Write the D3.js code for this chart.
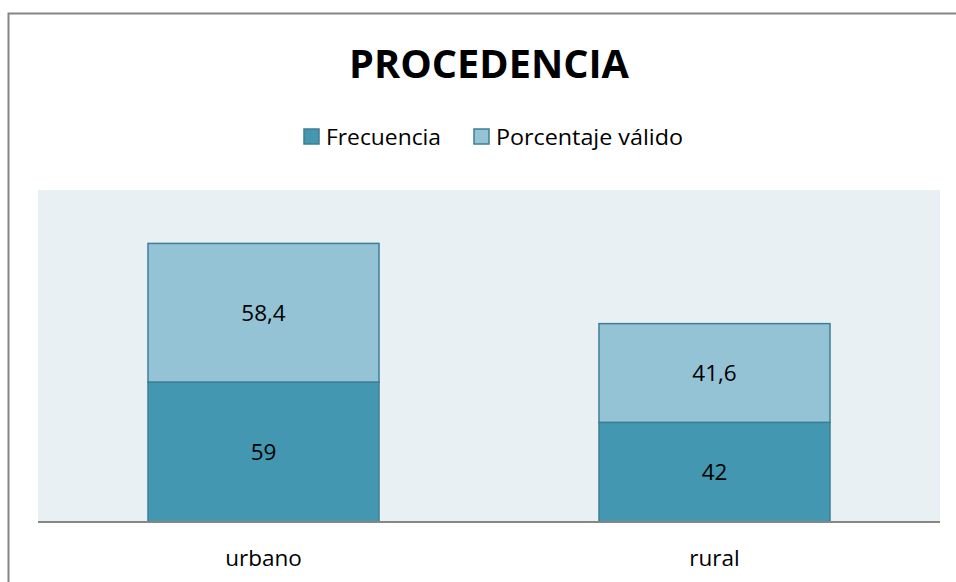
<!DOCTYPE html>
<html>
<head>
<meta charset="utf-8">
<script src="https://cdn.jsdelivr.net/npm/d3@7"></script>
<style>
  body { margin: 0; background: #fff; }
  svg { display: block; font-family: "Open Sans", "Noto Sans", sans-serif; }
</style>
</head>
<body>
<div id="chart"></div>
<script>
// data
const categories = ["urbano", "rural"];
const seriesNames = ["Frecuencia", "Porcentaje válido"];
const frecuencia = [59, 42];
const porcentaje = [58.4, 41.6];
const labelsFrec = ["59", "42"];
const labelsPct = ["58,4", "41,6"];

const width = 956, height = 582;
const colors = ["#4397b0", "#93c3d5"];
const strokeCol = "#3c7f94";

const plot = {left: 38, right: 940, top: 190, bottom: 522};

const svg = d3.select("#chart")
    .append("svg")
    .attr("width", width)
    .attr("height", height);

// outer frame
svg.append("rect")
    .attr("x", 8.5).attr("y", 13.5)
    .attr("width", width + 20).attr("height", height + 20)
    .attr("fill", "#fff")
    .attr("stroke", "#868686")
    .attr("stroke-width", 2);

// plot background
svg.append("rect")
    .attr("x", plot.left).attr("y", plot.top)
    .attr("width", plot.right - plot.left)
    .attr("height", plot.bottom - plot.top)
    .attr("fill", "#e8f0f4");

const x = d3.scaleBand()
    .domain(categories)
    .range([plot.left, plot.right])
    .paddingInner(0.4878)
    .paddingOuter(0.2439);

const y = d3.scaleLinear()
    .domain([0, 140])
    .range([plot.bottom, plot.bottom - 140 * (140 / 59)]);

const rows = categories.map((c, i) => ({cat: c, Frecuencia: frecuencia[i], "Porcentaje válido": porcentaje[i]}));
const stacked = d3.stack().keys(seriesNames)(rows);
const labels = [labelsFrec, labelsPct];

const layer = svg.selectAll("g.layer")
    .data(stacked)
    .join("g")
    .attr("class", "layer");

layer.each(function(s, si) {
    const g = d3.select(this);
    g.selectAll("rect")
        .data(s)
        .join("rect")
        .attr("x", d => x(d.data.cat))
        .attr("y", d => y(d[1]))
        .attr("width", x.bandwidth())
        .attr("height", d => y(d[0]) - y(d[1]))
        .attr("fill", colors[si])
        .attr("stroke", strokeCol)
        .attr("stroke-width", 1.5);

    g.selectAll("text")
        .data(s)
        .join("text")
        .attr("x", d => x(d.data.cat) + x.bandwidth() / 2)
        .attr("y", d => (y(d[0]) + y(d[1])) / 2 + 8)
        .attr("text-anchor", "middle")
        .attr("font-size", 22.5)
        .attr("fill", "#000")
        .text((d, i) => labels[si][i]);
});

// baseline
svg.append("line")
    .attr("x1", plot.left).attr("x2", plot.right)
    .attr("y1", plot.bottom).attr("y2", plot.bottom)
    .attr("stroke", "#868686")
    .attr("stroke-width", 2);

// category labels
svg.selectAll("text.cat")
    .data(categories)
    .join("text")
    .attr("class", "cat")
    .attr("x", d => x(d) + x.bandwidth() / 2)
    .attr("y", 566)
    .attr("text-anchor", "middle")
    .attr("font-size", 22.5)
    .text(d => d);

// title
svg.append("text")
    .attr("x", 489)
    .attr("y", 78)
    .attr("text-anchor", "middle")
    .attr("font-size", 39)
    .attr("font-weight", "bold")
    .attr("textLength", 280)
    .attr("lengthAdjust", "spacingAndGlyphs")
    .text("PROCEDENCIA");

// legend
const legend = svg.append("g");
const legX = [304, 474];
const legW = [115, 187];
seriesNames.forEach((name, i) => {
    legend.append("rect")
        .attr("x", legX[i]).attr("y", 129)
        .attr("width", 15).attr("height", 15)
        .attr("fill", colors[i])
        .attr("stroke", strokeCol)
        .attr("stroke-width", 1.5);
    legend.append("text")
        .attr("x", legX[i] + 22)
        .attr("y", 145)
        .attr("font-size", 22.5)
        .attr("textLength", legW[i])
        .attr("lengthAdjust", "spacingAndGlyphs")
        .text(name);
});
</script>
</body>
</html>
